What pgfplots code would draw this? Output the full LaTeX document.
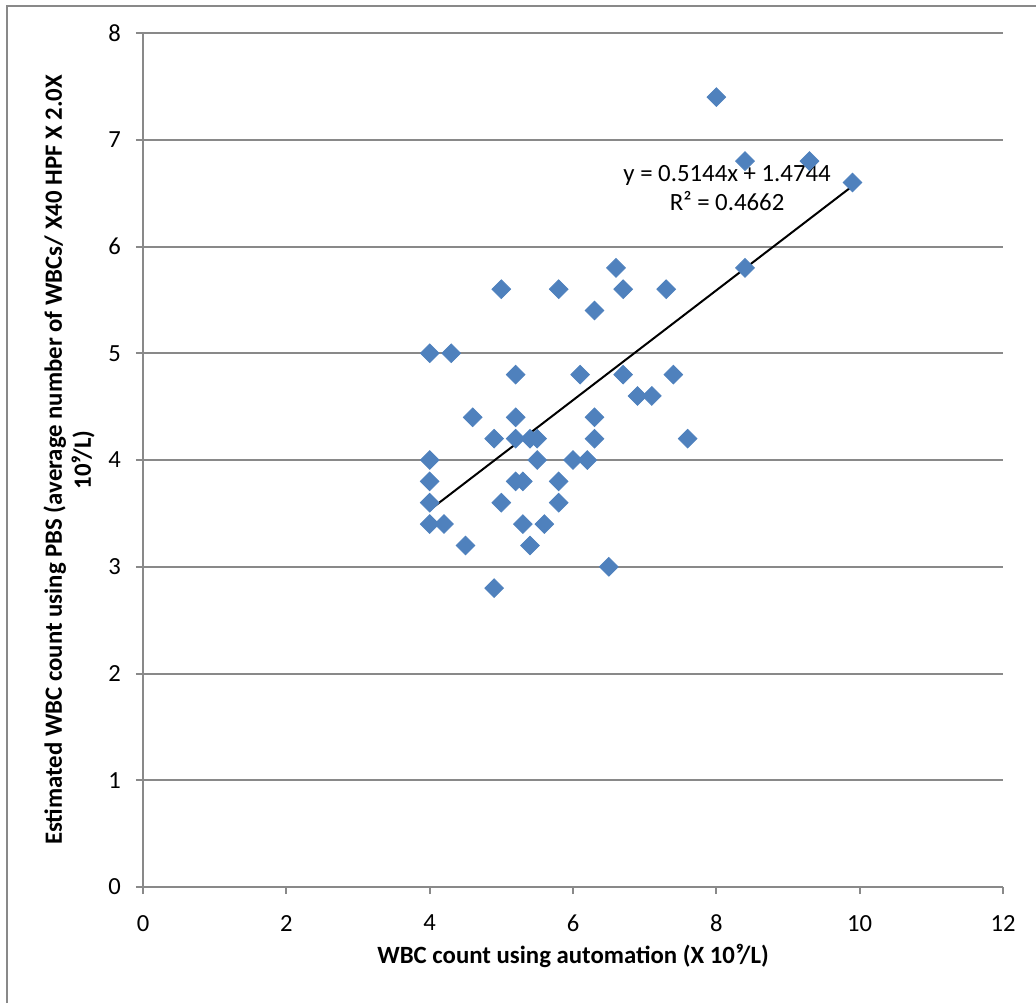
\documentclass[border=0pt]{standalone}
\usepackage{pgfplots}
\pgfplotsset{compat=1.18}
\usepackage{fontspec}
\setmainfont{Carlito}
\definecolor{ptblue}{HTML}{4F81BD}
\definecolor{gridgray}{HTML}{898989}
\begin{document}
\begin{tikzpicture}
\path[use as bounding box] (-71.5pt,-58pt) rectangle (446.5pt,443.5pt);
\draw[gridgray, line width=1pt] (-68pt,-58pt) -- (-68pt,440.5pt) -- (446.5pt,440.5pt);
\begin{axis}[
  at={(0,0)}, anchor=origin,
  scale only axis, width=430pt, height=427pt,
  xmin=0, xmax=12, ymin=0, ymax=8,
  xtick={0,2,...,12}, ytick={0,1,...,8},
  axis lines*=left,
  axis line style={gridgray, line width=1pt},
  tick align=outside,
  major tick length=3.5pt,
  tick style={gridgray, line width=1pt},
  ymajorgrids,
  grid style={gridgray, line width=1pt},
  /pgf/number format/assume math mode=true,
  ticklabel style={font=\fontsize{12.3}{14}\selectfont},
  xticklabel style={yshift=-7pt},
  yticklabel style={xshift=-4pt},
  xlabel={\textbf{WBC count using automation (X 10⁹/L)}},
  ylabel={\textbf{Estimated WBC count using PBS (average number of WBCs/ X40 HPF X 2.0X}\\\textbf{10⁹/L)}},
  label style={font=\fontsize{12.4}{14.5}\selectfont},
  ylabel style={align=center},
  xlabel style={yshift=1pt},
  clip=false,
]
\addplot[only marks, mark=square*, mark size=3.3pt, mark options={rotate=45, fill=ptblue, draw=ptblue}] coordinates {
(8.0,7.4)
(8.4,6.8) (9.3,6.8) (9.9,6.6)
(8.4,5.8) (6.6,5.8)
(5.0,5.6) (5.8,5.6) (6.7,5.6) (7.3,5.6)
(6.3,5.4)
(4.0,5.0) (4.3,5.0)
(5.2,4.8) (6.1,4.8) (6.7,4.8) (7.4,4.8)
(6.9,4.6) (7.1,4.6)
(4.6,4.4) (5.2,4.4) (6.3,4.4)
(4.9,4.2) (5.2,4.2) (5.4,4.2) (5.5,4.2) (6.3,4.2) (7.6,4.2)
(4.0,4.0) (5.5,4.0) (6.0,4.0) (6.2,4.0)
(4.0,3.8) (5.2,3.8) (5.3,3.8) (5.8,3.8)
(4.0,3.6) (5.0,3.6) (5.8,3.6)
(4.0,3.4) (4.2,3.4) (5.3,3.4) (5.6,3.4)
(4.5,3.2) (5.4,3.2)
(6.5,3.0)
(4.9,2.8)
};
\addplot[black, line width=1pt] coordinates {(4.0,3.532) (9.9,6.567)};
\node[font=\fontsize{12.4}{14.5}\selectfont, align=center] at (axis cs:8.15,6.55) {y = 0.5144x + 1.4744\\R² = 0.4662};
\end{axis}
\end{tikzpicture}
\end{document}
